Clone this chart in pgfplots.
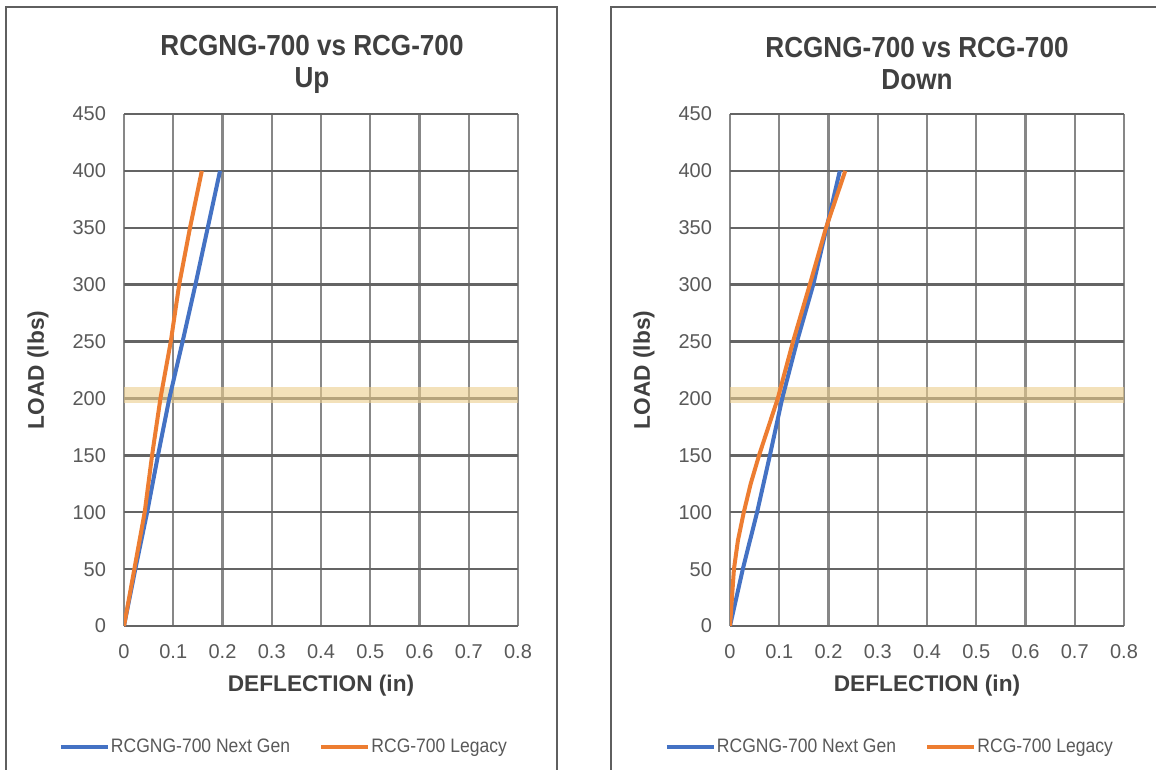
\documentclass[border=0pt]{standalone}
\usepackage{fontspec}
\setmainfont{Liberation Sans}
\newfontfamily\narrowfont{Liberation Sans}[FakeStretch=0.9]
\usepackage{pgfplots}
\pgfplotsset{compat=1.18}

\definecolor{ngblue}{RGB}{68,114,196}
\definecolor{legorange}{RGB}{237,125,49}
\definecolor{tickgray}{RGB}{89,89,89}
\definecolor{labgray}{RGB}{64,64,64}
\definecolor{hgrid}{RGB}{100,100,100}
\definecolor{vgrid}{RGB}{135,135,135}
\definecolor{band}{RGB}{235,205,140}
\definecolor{framegray}{RGB}{95,95,95}

\pgfplotsset{
  panel/.style={
    width=295.5pt, height=384pt, scale only axis, anchor=south west,
    xmin=0, xmax=0.8, ymin=0, ymax=450,
    xtick={0,0.1,0.2,0.3,0.4,0.5,0.6,0.7,0.8},
    ytick={0,50,100,150,200,250,300,350,400,450},
    grid=major,
    x grid style={vgrid, line width=1.8pt},
    y grid style={hgrid, line width=1.8pt},
    axis line style={draw=none}, major tick length=0pt,
    tick label style={font=\fontsize{15}{18}\selectfont, text=tickgray},
    /pgf/number format/assume math mode=true,
    xticklabel style={/pgf/number format/fixed, /pgf/number format/precision=1, yshift=-10pt},
    yticklabel style={xshift=-10pt},
    xlabel={DEFLECTION (in)}, ylabel={LOAD (lbs)},
    label style={font=\bfseries\fontsize{17}{20}\selectfont, text=labgray},
    xlabel style={at={(axis description cs:0.5,-0.117)}, anchor=center},
    ylabel style={at={(axis description cs:-0.218,0.5)}, anchor=center, rotate=0},
    legend style={at={(0.405,-0.236)}, anchor=center, draw=none, fill=none,
      legend columns=2, font=\narrowfont\fontsize{14.6}{17}\selectfont, text=tickgray,
      /tikz/every even column/.append style={column sep=21pt},
      nodes={inner xsep=1pt}},
    legend image code/.code={\draw[#1, line width=3pt] (0pt,0pt) -- (35pt,0pt);},
  },
  ng/.style={ngblue, line width=3pt},
  leg/.style={legorange, line width=3pt},
  bandstyle/.style={draw=none, fill=band, fill opacity=0.6, forget plot},
}

\begin{document}
\begin{tikzpicture}[x=0.75pt, y=0.75pt]
\useasboundingbox (0,0) rectangle (1156,769);
\fill[white] (0,0) rectangle (1156,769);

% panel frames
\draw[framegray, line width=1.5pt] (6,-10) -- (6,762) -- (557,762) -- (557,-10);
\draw[framegray, line width=1.5pt] (611,-10) -- (611,762) -- (1170,762) -- (1170,-10);

% titles
\node[align=center, font=\narrowfont\bfseries\fontsize{21.75}{24}\selectfont, text=labgray]
  at (312,705) {RCGNG-700 vs RCG-700\\Up};
\node[align=center, font=\narrowfont\bfseries\fontsize{21.75}{24}\selectfont, text=labgray]
  at (917,705) {RCGNG-700 vs RCG-700\\Down};

% Up
\begin{axis}[panel, at={(93pt,107.25pt)}]
\addplot[bandstyle] coordinates {(0,196) (0.8,196) (0.8,210) (0,210) (0,196)};
\addplot[ng] coordinates {(0,0) (0.023,50) (0.047,100) (0.069,150) (0.092,200)
  (0.119,250) (0.145,300) (0.170,350) (0.195,400)};
\addplot[leg] coordinates {(0,0) (0.021,50) (0.042,100) (0.057,150) (0.074,200)
  (0.095,250) (0.112,300) (0.134,350) (0.158,400)};
\legend{RCGNG-700 Next Gen, RCG-700 Legacy}
\end{axis}

% Down
\begin{axis}[panel, at={(547.5pt,107.25pt)}]
\addplot[bandstyle] coordinates {(0,196) (0.8,196) (0.8,210) (0,210) (0,196)};
\addplot[ng] coordinates {(0,0) (0.026,50) (0.055,100) (0.081,150) (0.106,200)
  (0.136,250) (0.169,300) (0.196,350) (0.223,400)};
\addplot[leg] coordinates {(0,0) (0.004,25) (0.008,50) (0.016,75) (0.028,100)
  (0.042,125) (0.059,150) (0.078,175) (0.097,200) (0.128,250) (0.162,300)
  (0.195,350) (0.234,400)};
\legend{RCGNG-700 Next Gen, RCG-700 Legacy}
\end{axis}
\end{tikzpicture}
\end{document}
